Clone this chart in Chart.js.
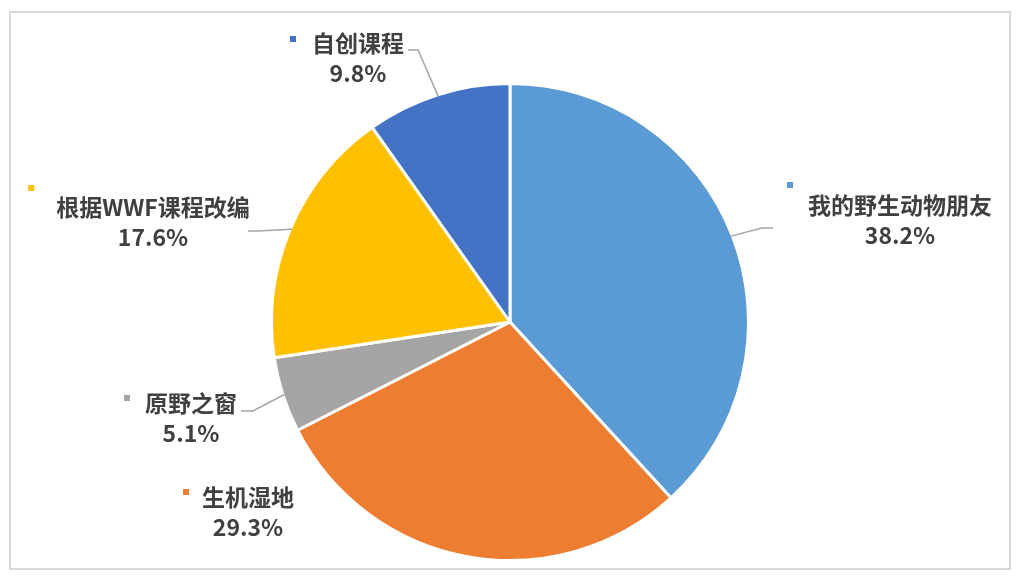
<!DOCTYPE html>
<html>
<head>
<meta charset="utf-8">
<script src="https://cdn.jsdelivr.net/npm/chart.js@4/dist/chart.umd.min.js"></script>
<style>
  body { margin: 0; background: #fff; }
  .wrap { position: relative; width: 1022px; height: 580px; }
  .frame {
    position: absolute; left: 9px; top: 11px; width: 998px; height: 555px;
    border: 2px solid #d9d9d9; pointer-events: none;
  }
  canvas { position: absolute; left: 0; top: 0; }
</style>
</head>
<body>
<div class="wrap">
  <canvas id="pie" width="1022" height="580"></canvas>
  <div class="frame"></div>
</div>
<script>
const categories = ["我的野生动物朋友", "生机湿地", "原野之窗", "根据WWF课程改编", "自创课程"];
const shares = [38.2, 29.3, 5.1, 17.6, 9.8];
const colors = ["#5B9BD5", "#ED7D31", "#A5A5A5", "#FFC000", "#4472C4"];

// where each label sits, relative to the pie centre (px)
const labelOffsets = [[390, -102], [-262, 190], [-319, 96], [-357, -100], [-152, -264]];
// legend square: gap left of text, shift above first line
const keyOffsets = [[-18, -20], [-16, -5], [-18, -5], [-25, -19], [-19, -4]];
// leader lines: elbow and end point relative to centre, null = none
const leaders = [
  [252, -94, 263, -94],
  null,
  [-257, 89, -269, 89],
  [-252, -91, -262, -91],
  [-92, -272, -102, -272],
];

const labelPlugin = {
  id: "outLabels",
  afterDatasetsDraw(chart) {
    const ctx = chart.ctx;
    const meta = chart.getDatasetMeta(0);
    const total = shares.reduce((a, b) => a + b, 0);
    ctx.save();
    meta.data.forEach((arc, i) => {
      const p = arc.getProps(["x", "y", "startAngle", "endAngle", "outerRadius"], true);
      const mid = (p.startAngle + p.endAngle) / 2;
      const r = p.outerRadius - 1.5;

      if (leaders[i]) {
        const l = leaders[i];
        ctx.strokeStyle = "#a5a5a5";
        ctx.lineWidth = 1.5;
        ctx.beginPath();
        ctx.moveTo(p.x + Math.cos(mid) * r, p.y + Math.sin(mid) * r);
        ctx.lineTo(p.x + l[0], p.y + l[1]);
        ctx.lineTo(p.x + l[2], p.y + l[3]);
        ctx.stroke();
      }

      const cx = p.x + labelOffsets[i][0];
      const cy = p.y + labelOffsets[i][1];
      ctx.font = 'bold 23px "Noto Sans CJK SC", "Noto Sans", sans-serif';
      ctx.fillStyle = "#404040";
      ctx.textAlign = "center";
      ctx.textBaseline = "middle";
      ctx.fillText(categories[i], cx, cy - 15);
      ctx.fillText((shares[i] / total * 100).toFixed(1) + "%", cx, cy + 15);

      const w = ctx.measureText(categories[i]).width;
      const kx = cx - w / 2 + keyOffsets[i][0];
      const ky = cy - 15 + keyOffsets[i][1];
      ctx.fillStyle = colors[i];
      ctx.fillRect(kx - 3, ky - 3, 6, 6);
    });
    ctx.restore();
  },
};

new Chart(document.getElementById("pie"), {
  type: "pie",
  data: {
    labels: categories,
    datasets: [
      {
        data: shares,
        backgroundColor: colors,
        borderColor: "#ffffff",
        borderWidth: 3,
      },
    ],
  },
  options: {
    responsive: false,
    animation: false,
    devicePixelRatio: 1,
    layout: { padding: { top: 82, bottom: 18, left: 0, right: 2 } },
    plugins: {
      legend: { display: false },
      tooltip: { enabled: false },
    },
  },
  plugins: [labelPlugin],
});
</script>
</body>
</html>
